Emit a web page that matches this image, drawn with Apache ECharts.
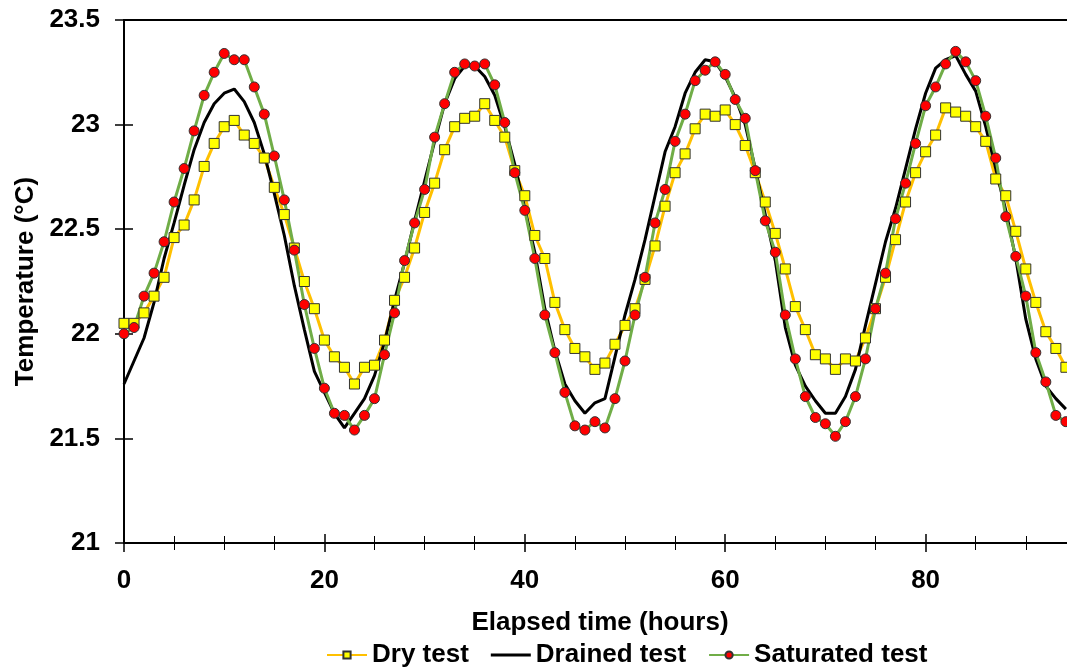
<!DOCTYPE html>
<html>
<head>
<meta charset="utf-8">
<script src="https://cdn.jsdelivr.net/npm/echarts@6/dist/echarts.min.js"></script>
<style>html,body{margin:0;padding:0;background:#fff}#c{width:1067px;height:668px}</style>
</head>
<body>
<div id="c"></div>
<script>
// Elapsed time (hours)
const hours = [0,1,2,3,4,5,6,7,8,9,10,11,12,13,14,15,16,17,18,19,20,21,22,23,24,25,26,27,28,29,30,31,32,33,34,35,36,37,38,39,40,41,42,43,44,45,46,47,48,49,50,51,52,53,54,55,56,57,58,59,60,61,62,63,64,65,66,67,68,69,70,71,72,73,74,75,76,77,78,79,80,81,82,83,84,85,86,87,88,89,90,91,92,93,94];

const dryTest = [22.05,22.05,22.10,22.18,22.27,22.46,22.52,22.64,22.80,22.91,22.99,23.02,22.95,22.91,22.84,22.70,22.57,22.41,22.25,22.12,21.97,21.89,21.84,21.76,21.84,21.85,21.97,22.16,22.27,22.41,22.58,22.72,22.88,22.99,23.03,23.04,23.10,23.02,22.94,22.78,22.66,22.47,22.36,22.15,22.02,21.93,21.89,21.83,21.86,21.95,22.04,22.12,22.26,22.42,22.61,22.77,22.86,22.98,23.05,23.04,23.07,23.00,22.90,22.77,22.63,22.48,22.31,22.13,22.02,21.90,21.88,21.83,21.88,21.87,21.98,22.12,22.27,22.45,22.63,22.77,22.87,22.95,23.08,23.06,23.04,22.99,22.92,22.74,22.66,22.49,22.31,22.15,22.01,21.93,21.84];

const drainedTest = [21.76,21.87,21.98,22.15,22.36,22.53,22.71,22.88,23.01,23.10,23.15,23.17,23.11,23.01,22.86,22.67,22.47,22.23,22.02,21.82,21.72,21.62,21.55,21.62,21.69,21.80,21.96,22.16,22.34,22.54,22.73,22.92,23.10,23.22,23.28,23.28,23.23,23.14,22.99,22.81,22.60,22.39,22.12,21.92,21.76,21.68,21.62,21.67,21.69,21.89,22.09,22.26,22.45,22.66,22.87,22.99,23.15,23.25,23.31,23.30,23.23,23.13,23.00,22.79,22.57,22.35,22.03,21.85,21.75,21.68,21.62,21.62,21.70,21.83,22.04,22.24,22.44,22.60,22.79,22.98,23.15,23.27,23.31,23.33,23.24,23.16,22.99,22.79,22.59,22.36,22.07,21.88,21.75,21.69,21.64];

const saturatedTest = [22.00,22.03,22.18,22.29,22.44,22.63,22.79,22.97,23.14,23.25,23.34,23.31,23.31,23.18,23.05,22.85,22.64,22.40,22.14,21.93,21.74,21.62,21.61,21.54,21.61,21.69,21.90,22.10,22.35,22.53,22.69,22.94,23.10,23.25,23.29,23.28,23.29,23.19,23.01,22.77,22.59,22.36,22.09,21.91,21.72,21.56,21.54,21.58,21.55,21.69,21.87,22.09,22.27,22.53,22.69,22.92,23.05,23.21,23.26,23.30,23.24,23.12,23.03,22.78,22.54,22.39,22.09,21.88,21.70,21.60,21.57,21.51,21.58,21.70,21.88,22.12,22.29,22.55,22.72,22.91,23.09,23.18,23.29,23.35,23.30,23.21,23.04,22.84,22.56,22.37,22.18,21.91,21.77,21.61,21.58];

const seriesNames = ['Dry test', 'Drained test', 'Saturated test'];
const xTitle = 'Elapsed time (hours)';
const yTitle = 'Temperature (°C)';

const FONT = 'Liberation Sans';
const pairs = (arr) => hours.map((h, i) => [h, arr[i]]);
const txt = (size) => ({ fontFamily: FONT, fontWeight: 'bold', fontSize: size, color: '#000' });

const baseX = {
  type: 'value', min: 0, max: 100, interval: 20, position: 'bottom', gridIndex: 0,
  splitLine: { show: false }
};
const baseY = {
  type: 'value', min: 21, max: 23.5, interval: 0.5, position: 'left', gridIndex: 0,
  splitLine: { show: false }
};

const chart = echarts.init(document.getElementById('c'), null, { renderer: 'canvas' });
chart.setOption({
  animation: false,
  backgroundColor: '#fff',
  grid: {
    left: 124, top: 20, width: 1002, height: 523,
    outerBoundsMode: 'none', containLabel: false,
    show: true, borderColor: '#000', borderWidth: 2, backgroundColor: 'transparent'
  },
  legend: {
    data: [
      { name: seriesNames[0] },
      { name: seriesNames[1], icon: 'path://M0,0H40V3H0Z' },
      { name: seriesNames[2] }
    ],
    top: 637, left: 321,
    itemWidth: 40, itemHeight: 9, itemGap: 22,
    textStyle: txt(26)
  },
  xAxis: [
    Object.assign({}, baseX, {
      axisLine: { show: true, lineStyle: { color: '#000', width: 2 } },
      axisTick: { show: true, length: 9, lineStyle: { color: '#000', width: 1.5 } },
      minorTick: { show: true, splitNumber: 4, length: 7, lineStyle: { color: '#000', width: 1 } },
      axisLabel: Object.assign(txt(26), { margin: 25 }),
      name: xTitle, nameLocation: 'middle', nameGap: 67,
      nameTextStyle: Object.assign(txt(26), { padding: [0, 50, 0, 0] })
    }),
    Object.assign({}, baseX, {
      axisLine: { show: false },
      axisTick: { show: true, inside: true, length: 9, lineStyle: { color: '#000', width: 1.5 } },
      minorTick: { show: true, splitNumber: 4, length: 7, lineStyle: { color: '#000', width: 1 } },
      axisLabel: { show: false }
    })
  ],
  yAxis: [
    Object.assign({}, baseY, {
      axisLine: { show: true, lineStyle: { color: '#000', width: 2 } },
      axisTick: { show: true, length: 9, lineStyle: { color: '#000', width: 1.5 } },
      axisLabel: Object.assign(txt(26), { margin: 24 }),
      name: yTitle, nameLocation: 'middle', nameGap: 81, nameRotate: 90, nameTextStyle: txt(26)
    }),
    Object.assign({}, baseY, {
      axisLine: { show: false },
      axisTick: { show: true, inside: true, length: 9, lineStyle: { color: '#000', width: 1.5 } },
      axisLabel: { show: false }
    })
  ],
  series: [
    {
      name: seriesNames[0], type: 'line', data: pairs(dryTest),
      symbol: 'rect', symbolSize: 10, showAllSymbol: true,
      lineStyle: { color: '#FFC000', width: 3 },
      itemStyle: { color: '#FFFF00', borderColor: '#333', borderWidth: 1 }
    },
    {
      name: seriesNames[1], type: 'line', data: pairs(drainedTest),
      symbol: 'none',
      lineStyle: { color: '#000', width: 3 },
      itemStyle: { color: '#000' }
    },
    {
      name: seriesNames[2], type: 'line', data: pairs(saturatedTest),
      symbol: 'circle', symbolSize: 10, showAllSymbol: true,
      lineStyle: { color: '#70AD47', width: 3 },
      itemStyle: { color: '#FF0000', borderColor: '#333', borderWidth: 1 }
    }
  ]
});
</script>
</body>
</html>
